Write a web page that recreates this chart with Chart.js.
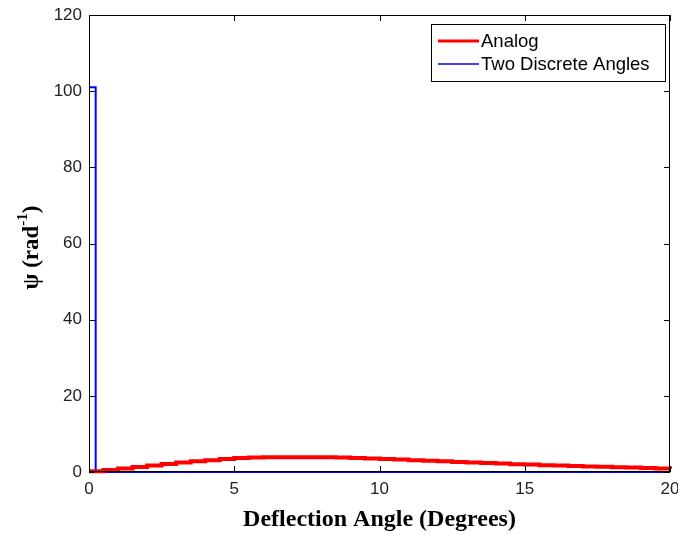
<!DOCTYPE html>
<html>
<head>
<meta charset="utf-8">
<script src="https://cdn.jsdelivr.net/npm/chart.js@4"></script>
<style>
  html, body { margin: 0; padding: 0; background: #fff; }
</style>
</head>
<body>
<canvas id="myChart" width="678" height="535"></canvas>
<script>
// Analog distribution (stairs)
const analogX = [0, 0.5, 1, 1.5, 2, 2.5, 3, 3.5, 4, 4.5, 5, 5.5, 6, 6.5, 7, 7.5, 8, 8.5, 9, 9.5,
                 10, 10.5, 11, 11.5, 12, 12.5, 13, 13.5, 14, 14.5, 15, 15.5, 16, 16.5, 17, 17.5, 18, 18.5, 19, 19.5, 20];
const analogY = [0.2, 0.5, 0.9, 1.3, 1.7, 2.1, 2.5, 2.8, 3.1, 3.4, 3.7, 3.8, 3.85, 3.9, 3.9, 3.9, 3.85, 3.8, 3.7, 3.55,
                 3.4, 3.25, 3.1, 2.95, 2.8, 2.65, 2.5, 2.35, 2.2, 2.05, 1.95, 1.8, 1.7, 1.6, 1.45, 1.35, 1.25, 1.15, 1.05, 0.95, 0.85];
// Two discrete angles
const discreteX = [0, 0.23, 20];
const discreteY = [101, 0, 0];

const xTicks = [0, 5, 10, 15, 20];
const yTicks = [0, 20, 40, 60, 80, 100, 120];

const toPoints = (xs, ys) => xs.map((x, i) => ({ x: x, y: ys[i] }));

// box + inward ticks + legend + y title (MATLAB look)
const matlabLook = {
    id: 'matlabLook',
    afterDatasetsDraw(chart) {
        const ctx = chart.ctx;
        const a = chart.chartArea;
        const xs = chart.scales.x, ys = chart.scales.y;
        ctx.save();
        ctx.strokeStyle = '#000';
        ctx.lineWidth = 1;
        ctx.strokeRect(Math.round(a.left) + 0.5, Math.round(a.top) + 0.5,
                       Math.round(a.right - a.left) - 1, Math.round(a.bottom - a.top) - 1);
        ctx.beginPath();
        xTicks.forEach(v => {
            const px = Math.round(xs.getPixelForValue(v)) + 0.5;
            ctx.moveTo(px, a.bottom); ctx.lineTo(px, a.bottom - 6);
            ctx.moveTo(px, a.top); ctx.lineTo(px, a.top + 6);
        });
        yTicks.forEach(v => {
            const py = Math.round(ys.getPixelForValue(v)) + 0.5;
            ctx.moveTo(a.left, py); ctx.lineTo(a.left + 6, py);
            ctx.moveTo(a.right, py); ctx.lineTo(a.right - 6, py);
        });
        ctx.stroke();

        // legend
        const lx = 431, ly = 24, lw = 234, lh = 57;
        ctx.fillStyle = '#fff';
        ctx.fillRect(lx, ly, lw, lh);
        ctx.strokeRect(lx + 0.5, ly + 0.5, lw, lh);
        ctx.font = '18.5px "Liberation Sans", Arial, sans-serif';
        ctx.textBaseline = 'middle';
        ctx.fillStyle = '#000';
        chart.data.datasets.forEach((ds, i) => {
            const y = ly + 17 + i * 23;
            ctx.strokeStyle = ds.borderColor;
            ctx.lineWidth = i === 0 ? 3 : 1.5;
            ctx.beginPath(); ctx.moveTo(438, y); ctx.lineTo(479, y); ctx.stroke();
            ctx.fillText(ds.label, 481, y + 1);
        });

        // y axis title with superscript
        ctx.translate(30, (a.top + a.bottom) / 2 + 4);
        ctx.rotate(-Math.PI / 2);
        ctx.fillStyle = '#000';
        const big = 'bold 23px "Liberation Serif", "Times New Roman", serif';
        const small = 'bold 15px "Liberation Serif", "Times New Roman", serif';
        ctx.font = big;
        const w1 = ctx.measureText('\u03c8 (rad').width;
        const w3 = ctx.measureText(')').width;
        ctx.font = small;
        const w2 = ctx.measureText('-1').width;
        let x0 = -(w1 + w2 + w3) / 2;
        ctx.textBaseline = 'alphabetic';
        ctx.font = big;
        ctx.fillText('\u03c8 (rad', x0, 8);
        ctx.font = small;
        ctx.fillText('-1', x0 + w1, -3);
        ctx.font = big;
        ctx.fillText(')', x0 + w1 + w2, 8);
        ctx.restore();
    }
};

const ctx = document.getElementById('myChart').getContext('2d');
const myChart = new Chart(ctx, {
    type: 'line',
    data: {
        datasets: [{
            label: 'Analog',
            data: toPoints(analogX, analogY),
            borderColor: '#ff0000',
            borderWidth: 4,
            stepped: 'before',
            pointRadius: 0,
            clip: 5
        }, {
            label: 'Two Discrete Angles',
            data: toPoints(discreteX, discreteY),
            borderColor: '#0000ff',
            borderWidth: 2,
            stepped: 'before',
            pointRadius: 0,
            clip: 5
        }]
    },
    options: {
        responsive: false,
        animation: false,
        layout: { padding: { top: 15, right: 8, left: 0, bottom: 0 } },
        plugins: {
            legend: { display: false },
            tooltip: { enabled: false }
        },
        scales: {
            x: {
                type: 'linear',
                min: 0, max: 20,
                grid: { display: false, drawTicks: false },
                border: { display: false },
                ticks: {
                    stepSize: 5, padding: 7, color: '#222',
                    font: { family: '"Liberation Sans", Arial, sans-serif', size: 17 }
                },
                title: {
                    display: true,
                    text: 'Deflection Angle (Degrees)',
                    color: '#000',
                    padding: { top: 0, bottom: 1 },
                    font: { family: '"Liberation Serif", "Times New Roman", serif', size: 24, weight: 'bold' }
                },
                afterFit(scale) {
                    scale.height = 63;
                    scale.paddingLeft = 0;
                    scale.paddingRight = 0;
                }
            },
            y: {
                min: 0, max: 120,
                grid: { display: false, drawTicks: false },
                border: { display: false },
                ticks: {
                    stepSize: 20, padding: 7, color: '#222',
                    font: { family: '"Liberation Sans", Arial, sans-serif', size: 17 }
                },
                afterFit(scale) {
                    scale.width = 89;
                    scale.paddingTop = 0;
                    scale.paddingBottom = 0;
                }
            }
        }
    },
    plugins: [matlabLook]
});
</script>
</body>
</html>
